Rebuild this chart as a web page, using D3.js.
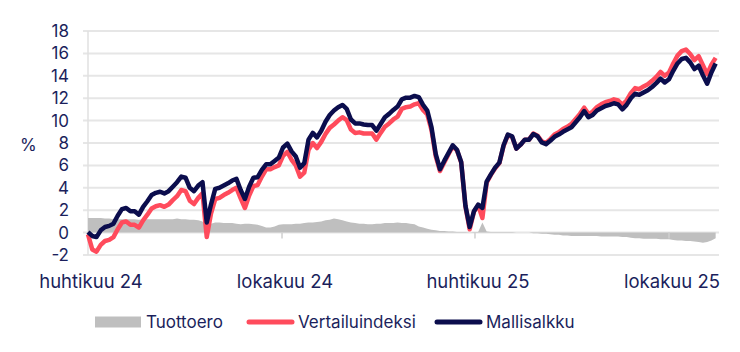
<!DOCTYPE html>
<html lang="fi">
<head>
  <meta charset="UTF-8">
  <title>Mallisalkku vs. vertailuindeksi</title>
  <script src="https://d3js.org/d3.v7.min.js"></script>
  <style>
    body { margin: 0; background: #fff; font-family: Inter, Roboto, sans-serif; }
    svg { display: block; }
    .lbl { fill: #1b1f5c; font-size: 17px; }
    .xlbl { fill: #1b1f5c; font-size: 18.5px; }
  </style>
</head>
<body>
<svg width="740" height="352"></svg>
<script>
// observations every 4 days starting 1.4.2024
const startDate = new Date(Date.UTC(2024, 3, 1));
const stepDays = 4;

const mallisalkku = [
  0.05, -0.3, -0.4, 0.2, 0.5, 0.6, 0.8, 1.5, 2.1, 2.2,
  1.9, 1.9, 1.6, 2.3, 2.8, 3.35, 3.55, 3.65, 3.5, 3.7,
  4.1, 4.5, 5.0, 4.9, 4.0, 3.7, 4.2, 4.5, 0.9, 2.5,
  3.9, 4.0, 4.2, 4.4, 4.65, 4.8, 3.8, 3.0, 4.1, 4.9,
  4.95, 5.6, 6.1, 6.1, 6.4, 6.7, 7.6, 7.95, 7.25, 6.8,
  5.8, 6.2, 8.3, 8.9, 8.5, 9.1, 9.9, 10.5, 10.9, 11.2,
  11.4, 11.05, 10.1, 9.75, 9.75, 9.65, 9.6, 9.6, 9.1, 9.7,
  10.3, 10.6, 10.95, 11.25, 11.9, 12.05, 12.05, 12.2, 12.1, 11.4,
  10.9, 9.4, 7.0, 5.65, 6.4, 7.1, 7.8, 7.4, 6.3, 2.4,
  0.5, 1.9, 2.5, 2.2, 4.55, 5.2, 5.8, 6.25, 7.8, 8.75,
  8.6, 7.5, 7.85, 8.3, 8.3, 8.8, 8.6, 8.05, 7.9, 8.2,
  8.55, 8.75, 9.0, 9.2, 9.4, 9.85, 10.3, 10.85, 10.3, 10.5,
  10.9, 11.1, 11.3, 11.4, 11.55, 11.45, 11.0, 11.4, 12.0, 12.4,
  12.3, 12.5, 12.7, 13.0, 13.35, 13.75, 13.4, 13.7, 14.45, 15.1,
  15.5, 15.6, 15.2, 14.6, 14.9, 14.05, 13.3, 14.3, 15.1
];

const vertailuindeksi = [
  -0.15, -1.5, -1.7, -1.1, -0.75, -0.65, -0.4, 0.3, 0.9, 1.0,
  0.7, 0.7, 0.45, 1.1, 1.6, 2.15, 2.35, 2.45, 2.3, 2.5,
  2.9, 3.25, 3.8, 3.7, 2.85, 2.55, 3.1, 3.5, -0.4, 1.7,
  3.0, 3.1, 3.35, 3.55, 3.8, 4.0, 3.05, 2.2, 3.3, 4.15,
  4.25, 5.0, 5.65, 5.65, 5.85, 6.0, 6.85, 7.2, 6.5, 6.0,
  5.0, 5.35, 7.4, 8.0, 7.55, 8.1, 8.8, 9.35, 9.65, 10.0,
  10.3, 10.05, 9.2, 8.9, 8.95, 8.85, 8.85, 8.85, 8.3, 8.9,
  9.45, 9.75, 10.1, 10.35, 11.05, 11.2, 11.25, 11.45, 11.55, 10.95,
  10.55, 9.15, 6.8, 5.5, 6.25, 7.0, 7.7, 7.35, 6.25, 2.35,
  0.3, 1.85, 2.45, 1.3, 4.45, 5.15, 5.75, 6.2, 7.75, 8.7,
  8.55, 7.5, 7.85, 8.3, 8.3, 8.85, 8.65, 8.15, 8.0, 8.35,
  8.75, 8.95, 9.25, 9.45, 9.7, 10.15, 10.6, 11.15, 10.6, 10.8,
  11.2, 11.45, 11.65, 11.75, 11.9, 11.8, 11.4, 11.8, 12.45, 12.9,
  12.8, 13.05, 13.25, 13.55, 13.9, 14.35, 14.0, 14.3, 15.1, 15.8,
  16.2, 16.35, 15.95, 15.4, 15.75, 14.95, 14.15, 15.0, 15.6
];

const tuottoero = [
  1.3, 1.3, 1.3, 1.3, 1.25, 1.25, 1.2, 1.2, 1.2, 1.2,
  1.2, 1.2, 1.15, 1.2, 1.2, 1.2, 1.2, 1.2, 1.2, 1.2,
  1.2, 1.25, 1.2, 1.2, 1.15, 1.15, 1.1, 1.0, 0.6, 0.8,
  0.9, 0.9, 0.85, 0.85, 0.85, 0.8, 0.75, 0.8, 0.8, 0.75,
  0.7, 0.6, 0.45, 0.45, 0.55, 0.7, 0.75, 0.75, 0.75, 0.8,
  0.8, 0.85, 0.9, 0.9, 0.95, 1.0, 1.1, 1.15, 1.25, 1.2,
  1.1, 1.0, 0.9, 0.85, 0.8, 0.8, 0.75, 0.75, 0.8, 0.8,
  0.85, 0.85, 0.85, 0.9, 0.85, 0.85, 0.8, 0.75, 0.55, 0.45,
  0.35, 0.25, 0.2, 0.15, 0.15, 0.1, 0.1, 0.05, 0.05, 0.05,
  0.0, 0.05, 0.05, 0.9, 0.1, 0.05, 0.05, 0.05, 0.05, 0.05,
  0.05, 0.0, 0.0, 0.0, 0.0, -0.05, -0.05, -0.1, -0.1, -0.15,
  -0.2, -0.2, -0.25, -0.25, -0.3, -0.3, -0.3, -0.3, -0.3, -0.3,
  -0.3, -0.35, -0.35, -0.35, -0.35, -0.35, -0.4, -0.4, -0.45, -0.5,
  -0.5, -0.55, -0.55, -0.55, -0.55, -0.6, -0.6, -0.6, -0.65, -0.7,
  -0.7, -0.75, -0.75, -0.8, -0.85, -0.9, -0.85, -0.7, -0.5
];

const yTicks = [-2, 0, 2, 4, 6, 8, 10, 12, 14, 16, 18];
const xTickDates = [new Date(Date.UTC(2024, 3, 1)), new Date(Date.UTC(2024, 9, 1)),
                    new Date(Date.UTC(2025, 3, 1)), new Date(Date.UTC(2025, 9, 1))];
const xTickLabels = ["huhtikuu 24", "lokakuu 24", "huhtikuu 25", "lokakuu 25"];

const legendItems = [
  { name: "Tuottoero", type: "area", color: "#bfbfbf" },
  { name: "Vertailuindeksi", type: "line", color: "#ff4b5c" },
  { name: "Mallisalkku", type: "line", color: "#0b0d4d" }
];

const svg = d3.select("svg");

const dates = mallisalkku.map((_, i) => d3.utcDay.offset(startDate, i * stepDays));

const x = d3.scaleUtc()
  .domain([xTickDates[0], xTickDates[3]])
  .range([88, 669]);
const y = d3.scaleLinear().domain([-2, 18]).range([255, 31]);
const plotRight = 719;

// gridlines
svg.append("g").selectAll("line")
  .data(yTicks).join("line")
  .attr("x1", 83).attr("x2", plotRight)
  .attr("y1", d => y(d)).attr("y2", d => y(d))
  .attr("stroke", "#e6e6e6").attr("stroke-width", 2);

// y labels
svg.append("g").selectAll("text")
  .data(yTicks).join("text")
  .attr("class", "lbl")
  .attr("x", 69).attr("y", d => y(d))
  .attr("dy", "0.35em")
  .attr("text-anchor", "end")
  .text(d => d);

svg.append("text").attr("class", "lbl")
  .attr("x", 20).attr("y", y(7.8)).attr("dy", "0.35em")
  .text("%");

// y axis line
svg.append("line")
  .attr("x1", x(xTickDates[0])).attr("x2", x(xTickDates[0]))
  .attr("y1", y(18)).attr("y2", y(-2))
  .attr("stroke", "#e0e0e0").attr("stroke-width", 1.5);

// tuottoero area
const area = d3.area()
  .x((d, i) => x(dates[i]))
  .y0(y(0))
  .y1(d => y(d));
svg.append("path")
  .datum(tuottoero)
  .attr("d", area)
  .attr("fill", "#bfbfbf");

// x axis ticks
svg.append("g").selectAll("line")
  .data(xTickDates).join("line")
  .attr("x1", d => x(d)).attr("x2", d => x(d))
  .attr("y1", y(0)).attr("y2", y(0) + 6)
  .attr("stroke", "#cfcfcf").attr("stroke-width", 1.5);

svg.append("g").selectAll("text")
  .data(xTickDates).join("text")
  .attr("class", "xlbl")
  .attr("x", d => x(d) + 3).attr("y", 288)
  .attr("text-anchor", "middle")
  .text((d, i) => xTickLabels[i]);

// lines
const line = d3.line()
  .x((d, i) => x(dates[i]))
  .y(d => y(d));

svg.append("path")
  .datum(vertailuindeksi)
  .attr("d", line)
  .attr("fill", "none")
  .attr("stroke", legendItems[1].color)
  .attr("stroke-width", 4.5)
  .attr("stroke-linejoin", "round");

svg.append("path")
  .datum(mallisalkku)
  .attr("d", line)
  .attr("fill", "none")
  .attr("stroke", legendItems[2].color)
  .attr("stroke-width", 4.5)
  .attr("stroke-linejoin", "round");

// legend
const legendX = [95, 247, 435];
const lg = svg.append("g").selectAll("g")
  .data(legendItems).join("g")
  .attr("transform", (d, i) => `translate(${legendX[i]},322)`);

lg.filter(d => d.type === "area").append("rect")
  .attr("x", 0).attr("y", -5.5).attr("width", 46).attr("height", 11)
  .attr("fill", d => d.color);

lg.filter(d => d.type === "line").append("line")
  .attr("x1", 2).attr("x2", 45).attr("y1", 0).attr("y2", 0)
  .attr("stroke", d => d.color).attr("stroke-width", 5)
  .attr("stroke-linecap", "round");

lg.append("text").attr("class", "lbl")
  .attr("x", 51)
  .attr("dy", "0.35em")
  .text(d => d.name);
</script>
</body>
</html>
